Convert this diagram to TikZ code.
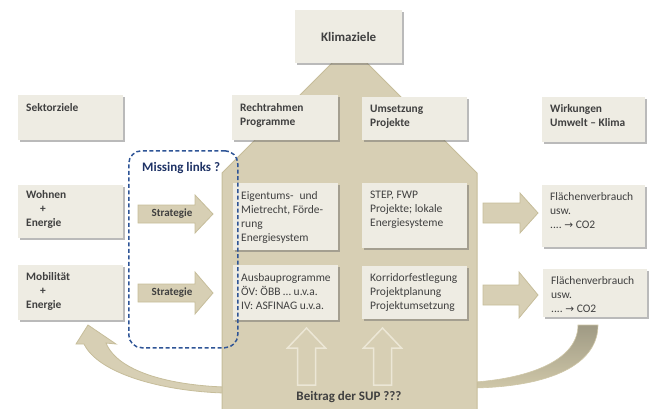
\documentclass[tikz,border=0pt]{standalone}
\usepackage{fontspec}
\setmainfont{Carlito}
\newfontfamily\symfont{DejaVu Sans}
\usetikzlibrary{shadows}
\definecolor{tan}{HTML}{D7CFB4}
\definecolor{tanedge}{HTML}{C6BD9A}
\definecolor{boxfill}{HTML}{EEECE3}
\definecolor{txt}{HTML}{404040}
\definecolor{mlblue}{HTML}{2E5496}
\definecolor{mltext}{HTML}{1F3366}
\definecolor{arrline}{HTML}{ECE7D6}
\definecolor{bandtop}{HTML}{9F9A84}
\definecolor{bandbot}{HTML}{CFC7A8}
\tikzset{
 boxstyle/.style={fill=boxfill, inner sep=0pt, anchor=north west,
   drop shadow={shadow xshift=1.6pt, shadow yshift=-1.6pt, fill=black!60, opacity=0.45}},
 lbl/.style={anchor=north west, inner sep=0pt, align=left, text=txt, font=\fontsize{11.5}{14}\selectfont},
 hdr/.style={lbl, font=\fontsize{11.4}{14}\selectfont\bfseries},
 tanarrow/.style={fill=tan, draw=tanedge, line width=0.8pt},
 uparrow/.style={fill=tan, draw=arrline, line width=1.5pt},
 bigtxt/.style={font=\fontsize{13}{15}\selectfont\bfseries, text=txt, inner sep=0pt},
 strtxt/.style={font=\fontsize{11}{13}\selectfont\bfseries, text=txt, inner sep=0pt},
}
\newcommand\mybox[8]{%
 \node[boxstyle, minimum width=#4pt, minimum height=#5pt] (#1) at (#2,#3) {};
 \node[#6] (#1t) at ([shift={(8,#7)}]#1.north west) {#8};}
\newcommand\toarrow{{\symfont\fontsize{10.5}{14}\selectfont →}}
\begin{document}
\begin{tikzpicture}[x=1pt,y=-1pt]
\useasboundingbox (0,0) rectangle (649,408);
% curved return arrows
\draw[tanarrow] (88,325) -- (116,344) -- (106,343)
  .. controls (118,372) and (170,385) .. (224,387) -- (224,393)
  .. controls (160,391) and (98,373) .. (84,344) -- (76,344) -- cycle;
\path[top color=bandtop, bottom color=bandbot, draw=bandbot, line width=0.6pt]
  (578,325) .. controls (578,360) and (530,378) .. (475,382) -- (475,388)
  .. controls (560,386) and (598,360) .. (598,325) -- cycle;
% big shape
\draw[fill=tan, draw=tanedge, line width=1pt] (222,414) -- (222,173) -- (349.5,45.5) -- (477,173) -- (477,414) -- cycle;
% up arrows
\draw[uparrow] (306.5,328) -- (325.5,348) -- (315.5,348) -- (315.5,385) -- (297.5,385) -- (297.5,348) -- (287.5,348) -- cycle;
\draw[uparrow] (382.5,328) -- (401.5,348) -- (391.5,348) -- (391.5,385) -- (373.5,385) -- (373.5,348) -- (363.5,348) -- cycle;
% Klimaziele
\node[boxstyle, minimum width=107pt, minimum height=53pt] (klima) at (295,10) {};
\node[bigtxt] (klimat) at (klima.center) {Klimaziele};
% boxes
\mybox{sekt}{18}{95}{105}{45}{hdr}{8}{Sektorziele}
\mybox{recht}{232}{95}{106}{45}{hdr}{8}{Rechtrahmen\\Programme}
\mybox{umsetz}{362}{97}{105}{43}{hdr}{7.5}{Umsetzung\\Projekte}
\mybox{wirk}{542}{97}{103}{45}{hdr}{7.5}{Wirkungen\\Umwelt – Klima}
\mybox{wohnen}{18}{185}{105}{53}{hdr}{5.5}{Wohnen\\\hspace*{14pt}+\\Energie}
\mybox{eigen}{233}{183}{105}{67}{lbl}{8}{Eigentums-\hspace{6pt}und\\Mietrecht, Förde-\\rung\\Energiesystem}
\mybox{step}{362}{183}{105}{65}{lbl}{8}{STEP, FWP\\Projekte; lokale\\Energiesysteme}
\mybox{flaecha}{542}{185}{103}{62}{lbl}{7.5}{Flächenverbrauch\\usw.\\....~\toarrow~CO2}
\mybox{mobil}{18}{265}{105}{55}{hdr}{7.5}{Mobilität\\\hspace*{14pt}+\\Energie}
\mybox{ausbau}{233}{265}{105}{55}{lbl}{8}{Ausbauprogramme\\ÖV: ÖBB … u.v.a.\\IV: ASFINAG u.v.a.}
\mybox{korr}{362}{266}{105}{53}{lbl}{7.5}{Korridorfestlegung\\Projektplanung\\Projektumsetzung}
\mybox{flaechb}{543}{269}{104}{48}{lbl}{7}{Flächenverbrauch\\usw.\\....~\toarrow~CO2}
% Strategie arrows
\draw[tanarrow] (138,205) -- (195,205) -- (195,195) -- (213,214) -- (195,233) -- (195,223) -- (138,223) -- cycle;
\node[strtxt] (strata) at (172,214) {Strategie};
\draw[tanarrow] (138,284) -- (195,284) -- (195,272) -- (213,293) -- (195,314) -- (195,302) -- (138,302) -- cycle;
\node[strtxt] (stratb) at (172,293) {Strategie};
% right arrows
\draw[tanarrow] (483,203) -- (520,203) -- (520,193) -- (538,213) -- (520,233) -- (520,223) -- (483,223) -- cycle;
\draw[tanarrow] (483,285) -- (519,285) -- (519,272) -- (538,295) -- (519,318) -- (519,305) -- (483,305) -- cycle;
% missing links
\node[draw=mlblue, line width=1.5pt, dash pattern=on 4pt off 2.5pt, rounded corners=13pt,
  minimum width=109pt, minimum height=197pt, inner sep=0pt, anchor=north west] (mlbox) at (128,150) {};
\node[font=\fontsize{13}{15}\selectfont\bfseries, text=mltext, anchor=west, inner sep=0pt] (mlt) at (142,168) {Missing links ?};
% bottom label
\node[bigtxt] (beitrag) at (349,397) {Beitrag der SUP ???};
\end{tikzpicture}
\end{document}
